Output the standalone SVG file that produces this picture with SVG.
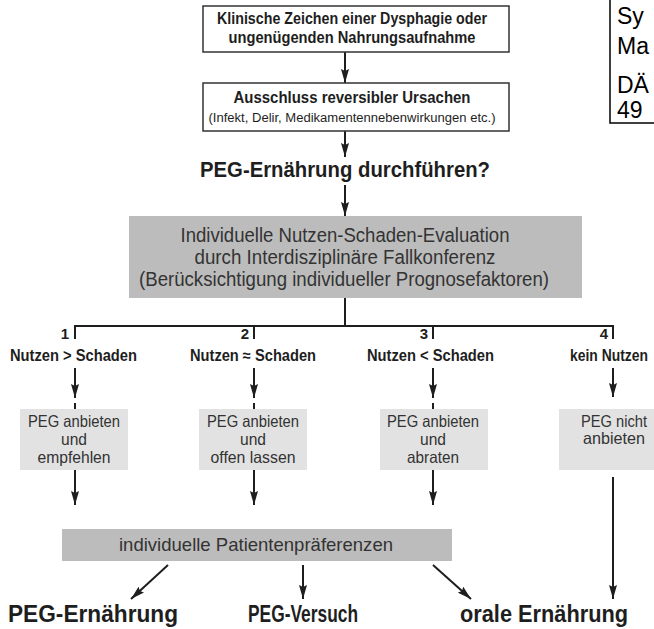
<svg xmlns="http://www.w3.org/2000/svg" width="654" height="629" viewBox="0 0 654 629">
<defs>
<marker id="ah" viewBox="0 0 14 8" refX="14" refY="4" markerWidth="14" markerHeight="8" markerUnits="userSpaceOnUse" orient="auto">
<path d="M0,0 L14,4 L0,8 L2,4 z" fill="#1e1e1e"/>
</marker>
<style>
.bx{fill:#fff;stroke:#333;stroke-width:1.5}
.g1{fill:#bcbcbc}
.g2{fill:#e2e2e2}
.ln{fill:none;stroke:#1e1e1e;stroke-width:2}
.ar{fill:none;stroke:#1e1e1e;stroke-width:2;marker-end:url(#ah)}
.b{font-family:"Liberation Sans",Arial,sans-serif;font-weight:bold;fill:#1e1e1e;text-anchor:middle}
.r{font-family:"Liberation Sans",Arial,sans-serif;fill:#333;text-anchor:middle}
.info{font-family:"Liberation Sans",Arial,sans-serif;font-size:23px;fill:#000}
</style>
</defs>
<g id="connectors">
<line class="ar" x1="345" y1="52" x2="345" y2="83"/>
<line class="ar" x1="345" y1="131" x2="345" y2="157"/>
<line class="ar" x1="345" y1="185" x2="345" y2="216"/>
<polyline class="ln" points="345,298 345,326"/>
<polyline class="ln" points="75,339 75,326 613,326 613,339"/>
<line class="ln" x1="254" y1="326" x2="254" y2="339"/>
<line class="ln" x1="433" y1="326" x2="433" y2="339"/>
<line class="ar" x1="75" y1="368" x2="75" y2="398"/>
<line class="ar" x1="254" y1="368" x2="254" y2="398"/>
<line class="ar" x1="433" y1="368" x2="433" y2="398"/>
<line class="ar" x1="613" y1="368" x2="613" y2="397"/>
<line class="ln" x1="75" y1="403" x2="75" y2="409"/>
<line class="ln" x1="254" y1="403" x2="254" y2="409"/>
<line class="ln" x1="433" y1="403" x2="433" y2="409"/>
<line class="ar" x1="75" y1="470" x2="75" y2="505"/>
<line class="ar" x1="254" y1="470" x2="254" y2="505"/>
<line class="ar" x1="433" y1="470" x2="433" y2="505"/>
<line class="ar" x1="613" y1="477" x2="613" y2="599"/>
<line class="ar" x1="168" y1="565" x2="131" y2="599"/>
<line class="ar" x1="303" y1="565" x2="303" y2="599"/>
<line class="ar" x1="433" y1="565" x2="471" y2="599"/>
</g>
<g id="n-klinisch">
<rect class="bx" x="203" y="6" width="306" height="46"/>
<text class="b" x="352" y="24" font-size="17" textLength="270" lengthAdjust="spacingAndGlyphs">Klinische Zeichen einer Dysphagie oder</text>
<text class="b" x="352" y="43" font-size="17" textLength="247" lengthAdjust="spacingAndGlyphs">ungenügenden Nahrungsaufnahme</text>
</g>
<g id="n-ausschluss">
<rect class="bx" x="203" y="83" width="306" height="48"/>
<text class="b" x="352" y="103" font-size="17" textLength="237" lengthAdjust="spacingAndGlyphs">Ausschluss reversibler Ursachen</text>
<text class="r" x="352" y="122" font-size="12.5" style="fill:#1e1e1e" textLength="287" lengthAdjust="spacingAndGlyphs">(Infekt, Delir, Medikamentennebenwirkungen etc.)</text>
</g>
<g id="n-frage">
<text class="b" x="345" y="177" font-size="22" textLength="290" lengthAdjust="spacingAndGlyphs">PEG-Ernährung durchführen?</text>
</g>
<g id="n-evaluation">
<rect class="g1" x="129" y="216" width="453" height="82"/>
<text class="r" x="345" y="242" font-size="20" textLength="329" lengthAdjust="spacingAndGlyphs">Individuelle Nutzen-Schaden-Evaluation</text>
<text class="r" x="345" y="264" font-size="20" textLength="301" lengthAdjust="spacingAndGlyphs">durch Interdisziplinäre Fallkonferenz</text>
<text class="r" x="344" y="286" font-size="20" textLength="410" lengthAdjust="spacingAndGlyphs">(Berücksichtigung individueller Prognosefaktoren)</text>
</g>
<g id="n-label1">
<text class="b" x="69" y="339" font-size="15" style="text-anchor:end">1</text>
<text class="b" x="73.5" y="361" font-size="16" textLength="127" lengthAdjust="spacingAndGlyphs">Nutzen &gt; Schaden</text>
</g>
<g id="n-label2">
<text class="b" x="249" y="339" font-size="15" style="text-anchor:end">2</text>
<text class="b" x="253" y="361" font-size="16" textLength="126" lengthAdjust="spacingAndGlyphs">Nutzen ≈ Schaden</text>
</g>
<g id="n-label3">
<text class="b" x="428" y="339" font-size="15" style="text-anchor:end">3</text>
<text class="b" x="430.5" y="361" font-size="16" textLength="127" lengthAdjust="spacingAndGlyphs">Nutzen &lt; Schaden</text>
</g>
<g id="n-label4">
<text class="b" x="608" y="339" font-size="15" style="text-anchor:end">4</text>
<text class="b" x="609" y="361" font-size="16" textLength="78" lengthAdjust="spacingAndGlyphs">kein Nutzen</text>
</g>
<g id="n-empfehlen">
<rect class="g2" x="20" y="409" width="108" height="61"/>
<text class="r" x="74" y="427" font-size="16.5" textLength="92" lengthAdjust="spacingAndGlyphs">PEG anbieten</text>
<text class="r" x="74" y="445" font-size="16.5" textLength="26" lengthAdjust="spacingAndGlyphs">und</text>
<text class="r" x="74" y="463" font-size="16.5" textLength="73" lengthAdjust="spacingAndGlyphs">empfehlen</text>
</g>
<g id="n-offen">
<rect class="g2" x="199" y="409" width="108" height="61"/>
<text class="r" x="253" y="427" font-size="16.5" textLength="92" lengthAdjust="spacingAndGlyphs">PEG anbieten</text>
<text class="r" x="253" y="445" font-size="16.5" textLength="26" lengthAdjust="spacingAndGlyphs">und</text>
<text class="r" x="253" y="463" font-size="16.5" textLength="85" lengthAdjust="spacingAndGlyphs">offen lassen</text>
</g>
<g id="n-abraten">
<rect class="g2" x="380" y="409" width="108" height="61"/>
<text class="r" x="433" y="427" font-size="16.5" textLength="92" lengthAdjust="spacingAndGlyphs">PEG anbieten</text>
<text class="r" x="433" y="445" font-size="16.5" textLength="26" lengthAdjust="spacingAndGlyphs">und</text>
<text class="r" x="433" y="463" font-size="16.5" textLength="52" lengthAdjust="spacingAndGlyphs">abraten</text>
</g>
<g id="n-nicht">
<rect class="g2" x="559" y="409" width="110" height="61"/>
<text class="r" x="614" y="427" font-size="16.5" textLength="66" lengthAdjust="spacingAndGlyphs">PEG nicht</text>
<text class="r" x="614" y="444" font-size="16.5" textLength="62" lengthAdjust="spacingAndGlyphs">anbieten</text>
</g>
<g id="n-praeferenzen">
<rect class="g1" x="62" y="529" width="390" height="32"/>
<text class="r" x="256" y="551" font-size="19" textLength="274" lengthAdjust="spacingAndGlyphs">individuelle Patientenpräferenzen</text>
</g>
<g id="n-peg">
<text class="b" x="93" y="622" font-size="24" textLength="170" lengthAdjust="spacingAndGlyphs">PEG-Ernährung</text>
</g>
<g id="n-versuch">
<text class="b" x="303" y="622" font-size="24" textLength="110" lengthAdjust="spacingAndGlyphs">PEG-Versuch</text>
</g>
<g id="n-oral">
<text class="b" x="544" y="622" font-size="24" textLength="168" lengthAdjust="spacingAndGlyphs">orale Ernährung</text>
</g>
<g id="n-info">
<polyline fill="none" stroke="#000" stroke-width="1.5" points="610,0 610,123 654,123"/>
<text class="info" x="617" y="24">Sy</text>
<text class="info" x="617" y="54">Ma</text>
<text class="info" x="617" y="93">DÄ</text>
<text class="info" x="617" y="118">49</text>
</g>
</svg>
